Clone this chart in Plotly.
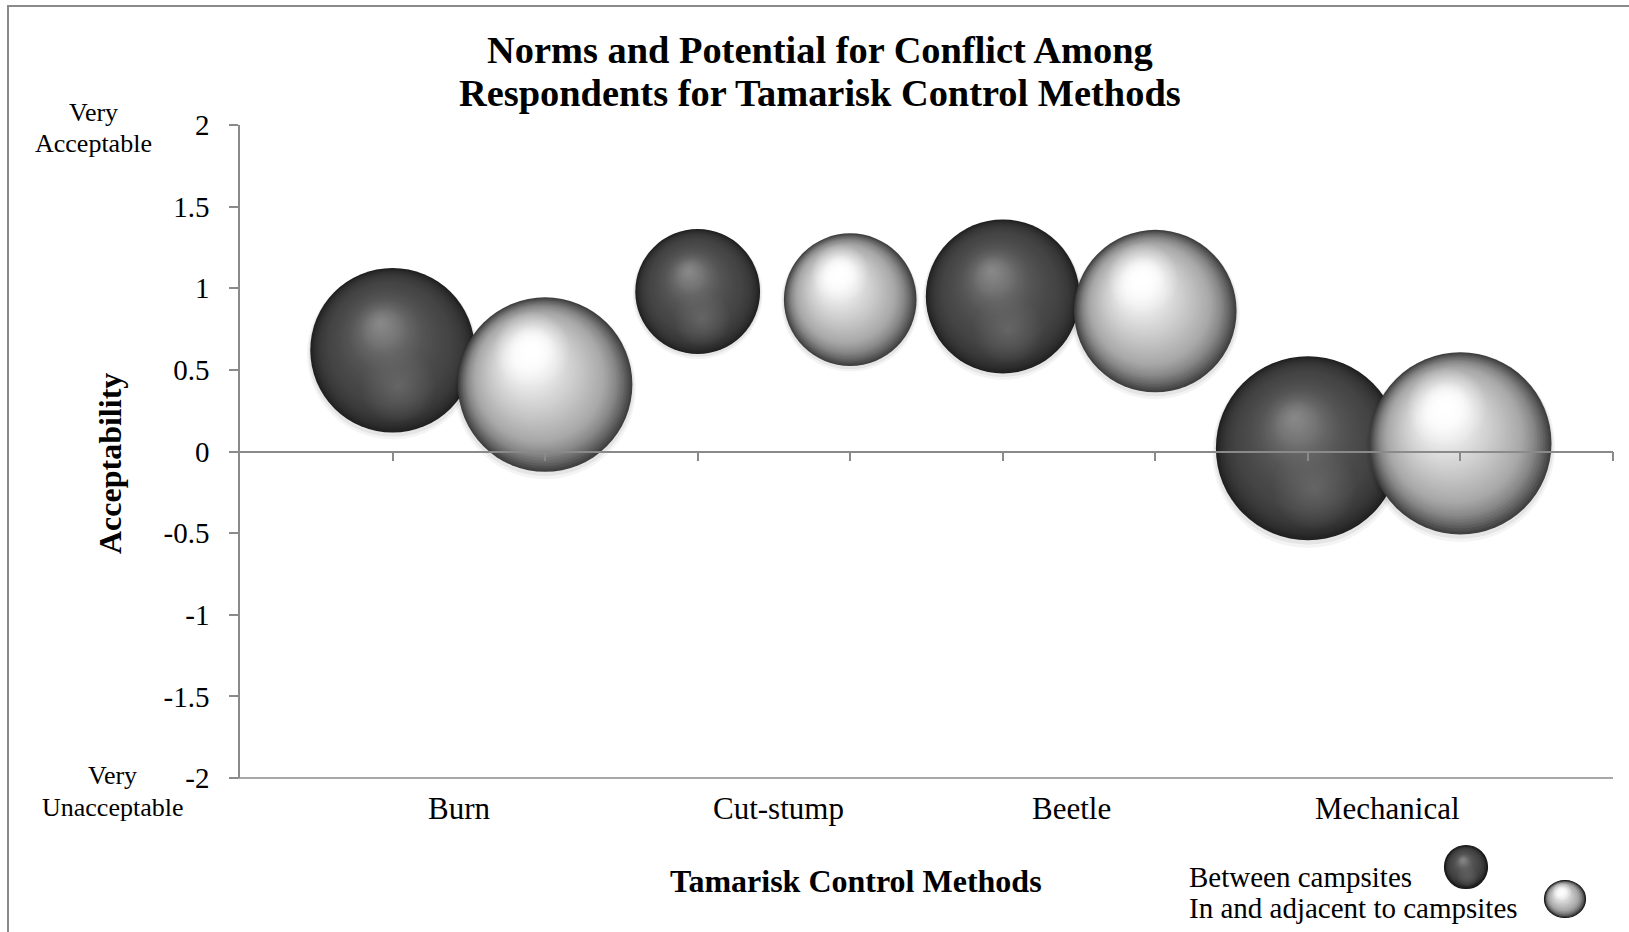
import numpy as np
import plotly.graph_objects as go

# ---- data -----------------------------------------------------------------
methods = ["Burn", "Cut-stump", "Beetle", "Mechanical"]
series_names = ["Between campsites", "In and adjacent to campsites"]
between_slot = [1, 3, 5, 7]
adjacent_slot = [2, 4, 6, 8]
between_acceptability = [0.62, 0.98, 0.95, 0.02]
adjacent_acceptability = [0.41, 0.93, 0.86, 0.05]
# potential-for-conflict index, shown as bubble area
between_conflict = [0.40, 0.23, 0.35, 0.50]
adjacent_conflict = [0.45, 0.26, 0.39, 0.49]
y_ticks = [-2, -1.5, -1, -0.5, 0, 0.5, 1, 1.5, 2]
y_tick_text = ["-2", "-1.5", "-1", "-0.5", "0", "0.5", "1", "1.5", "2"]

# ---- page geometry ----------------------------------------------------------
W, H = 1629, 932
ML, MR, MT, MB = 240, 16, 125, 154
PW, PH = W - ML - MR, H - MT - MB
X_RANGE = [0, 9]
Y_RANGE = [-2, 2]
KX = (X_RANGE[1] - X_RANGE[0]) / PW          # data units per pixel
KY = -(Y_RANGE[1] - Y_RANGE[0]) / PH         # data units per pixel downward
MAX_D = 184                                  # diameter of the largest bubble
FONT = "Liberation Serif"
AXIS_GREY = "#8a8a8a"


def px_x(p):
    return (p - ML) / PW


def px_y(p):
    return (H - MB - p) / PH


def bubble_diameters(values, vmax):
    return [MAX_D * np.sqrt(v / vmax) for v in values]


def grey(v, a=1.0):
    v = int(max(0, min(255, round(v))))
    return f"rgba({v},{v},{v},{a})"


DARK = dict(
    P=(-0.15, -0.34),
    prof_t=[0.0, 0.1, 0.2, 0.3, 0.45, 0.6, 0.75, 0.87, 0.95, 1.0],
    prof_v=[136, 128, 116, 100, 84, 74, 67, 56, 43, 30],
    blobs=[(0.035, 0.215, 0.46, 112, 0.7)],
)
LIGHT = dict(
    P=(-0.26, -0.34),
    prof_t=[0.0, 0.15, 0.3, 0.45, 0.6, 0.75, 0.86, 0.94, 1.0],
    prof_v=[250, 243, 228, 208, 188, 166, 134, 96, 62],
    blobs=[(-0.075, -0.2, 0.44, 255, 1.0), (-0.075, -0.2, 0.28, 255, 1.0)],
)


def profile(style):
    return lambda t: float(np.interp(t, style["prof_t"], style["prof_v"]))


def marker_trace(xs, ys, sizes, outer, center, gtype, name=None, hover=None,
                 custom=None):
    mk = dict(size=sizes, sizemode="diameter", color=outer, opacity=1,
              line=dict(width=0))
    if gtype != "none":
        mk["gradient"] = dict(type=gtype, color=center)
    tr = go.Scatter(x=xs, y=ys, mode="markers", marker=mk, cliponaxis=False,
                    showlegend=False)
    if hover:
        tr.update(name=name, hovertemplate=hover, customdata=custom)
    else:
        tr.update(hoverinfo="skip")
    return tr


def sphere_traces(xs, ys, ds, style, n=40, name=None, hover=None, custom=None):
    """Shaded bubbles: nested discs drifting toward the light, plus glints."""
    xs, ys, ds = (np.asarray(a, dtype=float) for a in (xs, ys, ds))
    out = []
    for off, sz, a in [(0.022, 1.04, 0.045), (0.014, 1.02, 0.06)]:
        out.append(marker_trace(xs, ys + off * ds * KY, sz * ds,
                                grey(0, a), grey(0, a), "none"))
    px, py = style["P"]
    g = profile(style)
    ts = np.linspace(1.0, 0.04, n)
    step = ts[0] - ts[1]
    for i, t in enumerate(ts):
        ox, oy = px * (1 - t) / 2, py * (1 - t) / 2
        edge = g(t)
        centre = edge + (g(max(t - step, 0)) - edge) * t / step
        first = i == 0
        out.append(marker_trace(xs + ox * ds * KX, ys + oy * ds * KY, t * ds,
                                grey(edge), grey(centre), "radial",
                                name=name if first else None,
                                hover=hover if first else None,
                                custom=custom if first else None))
    for ox, oy, sz, v, a in style["blobs"]:
        out.append(marker_trace(xs + ox * ds * KX, ys + oy * ds * KY, sz * ds,
                                grey(v, 0.0), grey(v, a), "radial"))
    return out


def swatch_shapes(cx, cy, w, h, style, n=16):
    """Small shaded legend ball drawn from layered paper-space circles."""
    px, py = style["P"]
    g = profile(style)
    shp = []

    def disc(x, y, rx, ry, fill, line=None):
        shp.append(dict(type="circle", xref="paper", yref="paper",
                        x0=px_x(x - rx), x1=px_x(x + rx),
                        y0=px_y(y + ry), y1=px_y(y - ry), fillcolor=fill,
                        line=line or dict(width=0), layer="above"))

    for t in np.linspace(1.0, 0.06, n):
        disc(cx + px * (1 - t) * w / 2, cy + py * (1 - t) * h / 2,
             t * w / 2, t * h / 2, grey(g(t)))
    for ox, oy, sz, v, a in style["blobs"]:
        for k in range(4):
            f = 1 - k / 4
            disc(cx + ox * w, cy + oy * h, sz * f * w / 2, sz * f * h / 2,
                 grey(v, a * 0.22))
    disc(cx, cy, w / 2, h / 2, "rgba(0,0,0,0)",
         line=dict(color="#1a1a1a", width=1.2))
    return shp


vmax = max(between_conflict + adjacent_conflict)
d_between = bubble_diameters(between_conflict, vmax)
d_adjacent = bubble_diameters(adjacent_conflict, vmax)

fig = go.Figure()
hover_t = ("%{customdata[0]}<br>Acceptability: %{y:.2f}<br>"
           "Conflict: %{customdata[1]:.2f}<extra>%{fullData.name}</extra>")
for tr in sphere_traces(between_slot, between_acceptability, d_between, DARK,
                        name=series_names[0], hover=hover_t,
                        custom=list(zip(methods, between_conflict))):
    fig.add_trace(tr)
for tr in sphere_traces(adjacent_slot, adjacent_acceptability, d_adjacent, LIGHT,
                        name=series_names[1], hover=hover_t,
                        custom=list(zip(methods, adjacent_conflict))):
    fig.add_trace(tr)

annotations = []


def text(s, x, y, size, bold=False, angle=0, xanchor="center"):
    annotations.append(dict(
        text=f"<b>{s}</b>" if bold else s, x=px_x(x), y=px_y(y),
        xref="paper", yref="paper", showarrow=False, textangle=angle,
        xanchor=xanchor, yanchor="middle",
        font=dict(family=FONT, size=size, color="black")))


text("Norms and Potential for Conflict Among", 820, 50, 38.4, bold=True)
text("Respondents for Tamarisk Control Methods", 820, 93, 38.4, bold=True)
text("Very", 93, 113, 26)
text("Acceptable", 93, 143, 26)
text("Very", 112, 775, 26)
text("Unacceptable", 112, 807, 26)
text("Acceptability", 110, 464, 32, bold=True, angle=-90)
text("Tamarisk Control Methods", 856, 881, 32, bold=True)
text(series_names[0], 1187, 877, 29, xanchor="left")
text(series_names[1], 1187, 908, 29, xanchor="left")

label_shift = [-9, 5, -8, 3]
for i, m in enumerate(methods):
    annotations.append(dict(
        text=m, x=(between_slot[i] + adjacent_slot[i]) / 2, y=px_y(808),
        xref="x", yref="paper", xshift=label_shift[i], showarrow=False,
        xanchor="center", yanchor="middle",
        font=dict(family=FONT, size=31, color="black")))

shapes = [
    # baseline along the bottom of the plot
    dict(type="line", xref="paper", yref="paper", x0=px_x(231), x1=1.0,
         y0=0, y1=0, line=dict(color=AXIS_GREY, width=1.5)),
    # chart frame
    dict(type="rect", xref="paper", yref="paper", x0=px_x(8), x1=px_x(1650),
         y0=px_y(950), y1=px_y(6), line=dict(color=AXIS_GREY, width=2),
         fillcolor="rgba(0,0,0,0)", layer="below"),
]
# legend balls beside the legend text
shapes += swatch_shapes(1466, 867, 43, 43, DARK)
shapes += swatch_shapes(1565, 899, 41, 37, LIGHT)

fig.update_layout(
    width=W, height=H, margin=dict(l=ML, r=MR, t=MT, b=MB),
    paper_bgcolor="white", plot_bgcolor="white",
    font=dict(family=FONT, color="black"),
    showlegend=False, annotations=annotations, shapes=shapes,
    xaxis=dict(range=X_RANGE, anchor="free", position=0.5,
               tickvals=list(range(1, 10)), ticks="outside", ticklen=9,
               tickcolor=AXIS_GREY, tickwidth=1.5, showticklabels=False,
               showline=True, linecolor=AXIS_GREY, linewidth=1.5,
               showgrid=False, zeroline=False, fixedrange=True),
    yaxis=dict(range=Y_RANGE, tickvals=y_ticks, ticktext=y_tick_text,
               ticks="outside", ticklen=9, tickcolor=AXIS_GREY, tickwidth=1.5,
               showline=True, linecolor=AXIS_GREY, linewidth=1.5,
               tickfont=dict(family=FONT, size=29, color="black"),
               ticklabelstandoff=14,
               showgrid=False, zeroline=False, fixedrange=True),
)

fig.write_html("out.html")
